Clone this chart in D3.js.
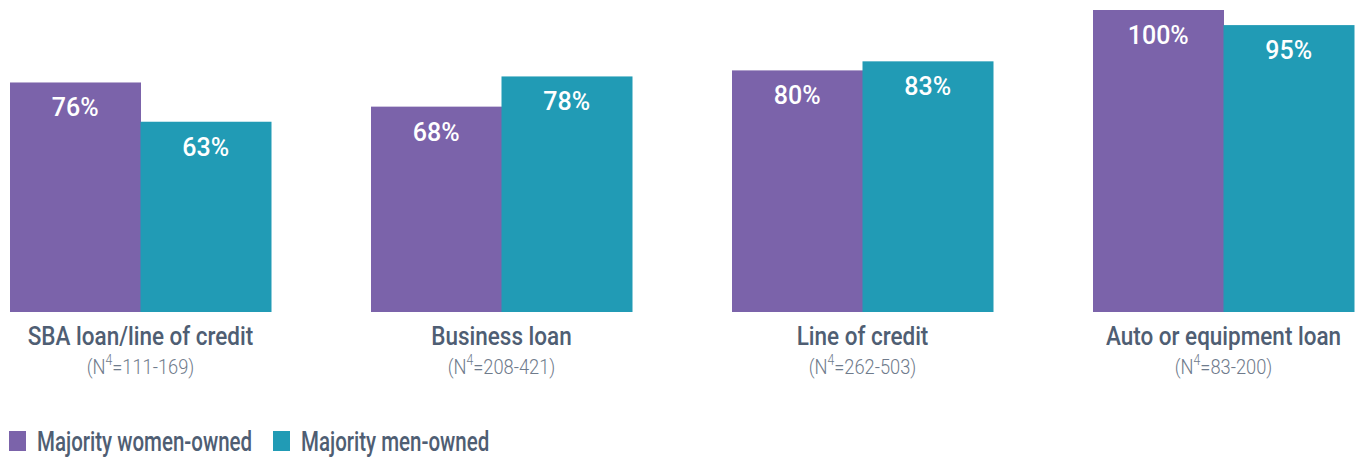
<!DOCTYPE html>
<html><head><meta charset="utf-8">
<script src="https://cdn.jsdelivr.net/npm/d3@7"></script>
<style>
html,body{margin:0;padding:0;background:#fff;}
svg{display:block;}
</style></head>
<body>
<svg id="chart" width="1355" height="457"></svg>
<script>
const categories = ["SBA loan/line of credit","Business loan","Line of credit","Auto or equipment loan"];
const sampleLabels = ["111-169","208-421","262-503","83-200"];
const seriesNames = ["Majority women-owned","Majority men-owned"];
const womenValues = [76, 68, 80, 100];
const menValues = [63, 78, 83, 95];
const colors = ["#7b63aa","#219bb5"];

const svg = d3.select("#chart");
const baseline = 312, topY = 10;
const x0 = d3.scaleBand().domain(categories).range([10, 1354]).paddingInner(100/361).paddingOuter(0);
const x1 = d3.scaleBand().domain(seriesNames).range([0, x0.bandwidth()]).padding(0);
const y = d3.scaleLinear().domain([0, 100]).range([baseline, topY]);

const data = categories.map((c,i)=>({cat:c, n:sampleLabels[i], vals:[womenValues[i], menValues[i]]}));

const g = svg.selectAll("g.grp").data(data).join("g")
  .attr("transform", d=>`translate(${x0(d.cat)},0)`);

g.selectAll("rect").data(d=>d.vals.map((v,j)=>({v, s:seriesNames[j], j}))).join("rect")
  .attr("x", d=>x1(d.s)).attr("width", x1.bandwidth()+0.5)
  .attr("y", d=>y(d.v)).attr("height", d=>baseline - y(d.v))
  .attr("fill", d=>colors[d.j]);

g.selectAll("text.val").data(d=>d.vals.map((v,j)=>({v, s:seriesNames[j]}))).join("text")
  .attr("class","val")
  .attr("x", d=>x1(d.s)+x1.bandwidth()/2)
  .attr("y", d=>y(d.v)+34)
  .attr("text-anchor","middle")
  .attr("fill","#fff")
  .style("font-family","Roboto, sans-serif")
  .style("font-weight","500")
  .style("font-size","25px")
  .text(d=>d.v+"%");

g.append("text")
  .attr("text-anchor","middle")
  .attr("fill","#4f5e73")
  .style("font-family","Roboto, sans-serif")
  .style("font-weight","500")
  .style("font-size","25px")
  .attr("transform", `translate(${x0.bandwidth()/2},345) scale(0.9,1)`)
  .text(d=>d.cat);

const sub = g.append("text")
  .attr("text-anchor","middle")
  .attr("fill","#6f7b8c")
  .style("font-family","Roboto, sans-serif")
  .style("font-weight","300")
  .style("font-size","21px")
  .attr("transform", `translate(${x0.bandwidth()/2},374) scale(0.87,1)`);
sub.append("tspan").text("(N");
sub.append("tspan").attr("dy",-9).style("font-size","14px").text("4");
sub.append("tspan").attr("dy",9).text(d=>"="+d.n+")");

// legend
const legendX = [9, 273];
const lg = svg.selectAll("g.leg").data(seriesNames).join("g")
  .attr("transform",(d,i)=>`translate(${legendX[i]},431)`);
lg.append("rect").attr("width",17).attr("height",20).attr("fill",(d,i)=>colors[i]);
lg.append("text")
  .attr("fill","#4f5e73")
  .style("font-family","Roboto, sans-serif")
  .style("font-weight","500")
  .style("font-size","27px")
  .attr("transform",`translate(28,20) scale(0.76,1)`)
  .text(d=>d);
</script>
</body></html>
